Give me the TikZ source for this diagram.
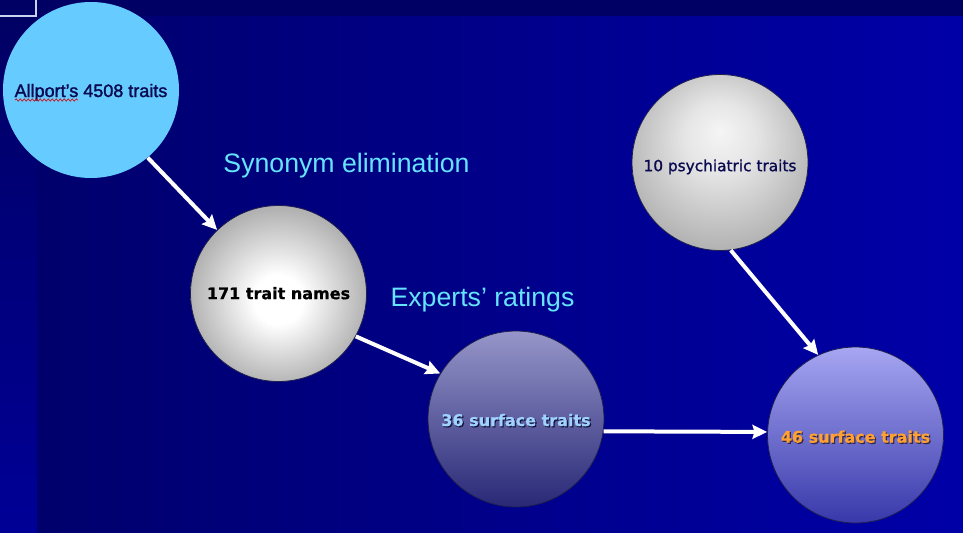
\documentclass[tikz,border=0pt]{standalone}
\usepackage{fontspec}
\setmainfont{Liberation Sans}
\newfontfamily\verd{DejaVu Sans}
\newfontfamily\verdheavy{DejaVu Sans}[FakeBold=1.2]
\newfontfamily\verdbold{DejaVu Sans Bold}[FakeBold=0.6]
\newfontfamily\arialheavy{Liberation Sans}[FakeBold=1.6]
\usetikzlibrary{arrows.meta,decorations.pathmorphing}

\definecolor{bgdark}{RGB}{0,0,100}
\definecolor{bgleft}{RGB}{0,0,108}
\definecolor{bgright}{RGB}{0,0,168}
\definecolor{stripbot}{RGB}{0,0,150}
\definecolor{skyfill}{RGB}{102,204,255}
\definecolor{navytext}{RGB}{10,10,80}
\definecolor{cyanlabel}{RGB}{102,228,255}
\definecolor{lightbluetext}{RGB}{160,210,255}
\definecolor{orangetext}{RGB}{255,160,50}
\definecolor{rimcol}{RGB}{30,30,80}
\definecolor{shadowA}{RGB}{20,20,60}
\definecolor{shadowB}{RGB}{50,40,80}
\definecolor{cornerline}{RGB}{200,210,240}

\pgfdeclareradialshading{silverball}{\pgfpoint{0bp}{-2bp}}{%
  color(0bp)=(white); color(7bp)=(white); color(25bp)=(black!30); color(30bp)=(black!31); color(50bp)=(black!31)}
\pgfdeclareradialshading{greyball}{\pgfpoint{0bp}{9bp}}{%
  color(0bp)=(black!4); color(10bp)=(black!10); color(34bp)=(black!36); color(40bp)=(black!38); color(50bp)=(black!38)}

\newcommand{\shadowed}[3]{\makebox[0pt][l]{\hspace{0.9pt}\raisebox{-0.9pt}{\textcolor{#2}{#3}}}\textcolor{#1}{#3}}

\tikzset{
  bubble/.style={circle, minimum size=132pt, inner sep=0pt, text height=11pt, text depth=0pt},
  rimmed/.style={draw=rimcol, line width=0.6pt},
  flow/.style={draw=white, line width=3pt, -{Stealth[length=11pt, width=10.5pt, inset=1.5pt]}},
  steplabel/.style={text=cyanlabel, font=\fontsize{20}{24}\selectfont, anchor=base, inner sep=0pt}
}

\begin{document}
\begin{tikzpicture}[x=0.75pt, y=-0.75pt]
\useasboundingbox (0,0) rectangle (963,532);
% background
\fill[bgdark] (0,0) rectangle (963,532);
\shade[left color=bgleft, right color=bgright] (37,16) rectangle (963,532);
\shade[top color=bgdark, bottom color=stripbot] (0,16) rectangle (37,532);
\draw[cornerline, line width=0.8pt] (0,16) -- (36,16) -- (36,0);

% circles
\node[bubble, fill=skyfill, text=navytext, font=\arialheavy\fontsize{13.5}{16}\selectfont, text height=10.5pt] (c1) at (91,90) {Allport’s 4508 traits};
\node[bubble, rimmed, shading=silverball, text=black, font=\verdbold\fontsize{12}{14}\selectfont, text height=8.5pt] (c2) at (278.5,293.5) {171 trait names};
\node[bubble, rimmed, top color={rgb,255:red,150;green,150;blue,202}, bottom color={rgb,255:red,40;green,40;blue,118}, font=\verdbold\fontsize{12}{14}\selectfont, text height=10.5pt] (c3) at (516,419) {\shadowed{lightbluetext}{shadowA}{36 surface traits}};
\node[bubble, rimmed, shading=greyball, text=navytext, font=\verdheavy\fontsize{11.5}{14}\selectfont, text height=13pt] (c4) at (720,162.5) {10 psychiatric traits};
\node[bubble, rimmed, top color={rgb,255:red,166;green,166;blue,242}, bottom color={rgb,255:red,56;green,56;blue,170}, font=\verdbold\fontsize{12}{14}\selectfont, text height=11.5pt] (c5) at (855.5,435) {\shadowed{orangetext}{shadowB}{46 surface traits}};

% spell-check squiggle under Allport's
\draw[red!85!black, line width=0.5pt, decorate, decoration={snake, amplitude=0.8pt, segment length=3pt}] (15,100) -- (78,100);

% step labels
\node[steplabel] (lab1) at (346.5,172) {Synonym elimination};
\node[steplabel] (lab2) at (482.5,306) {Experts’ ratings};

% arrows
\draw[flow] (c1.-50.5) -- (c2.134.5);
\draw[flow] (c2.-29.5) -- (c3.149.2);
\draw[flow] (c3.-8.4) -- (c5.178.1);
\draw[flow] (c4.-83) -- (c5.115.2);
\end{tikzpicture}
\end{document}
